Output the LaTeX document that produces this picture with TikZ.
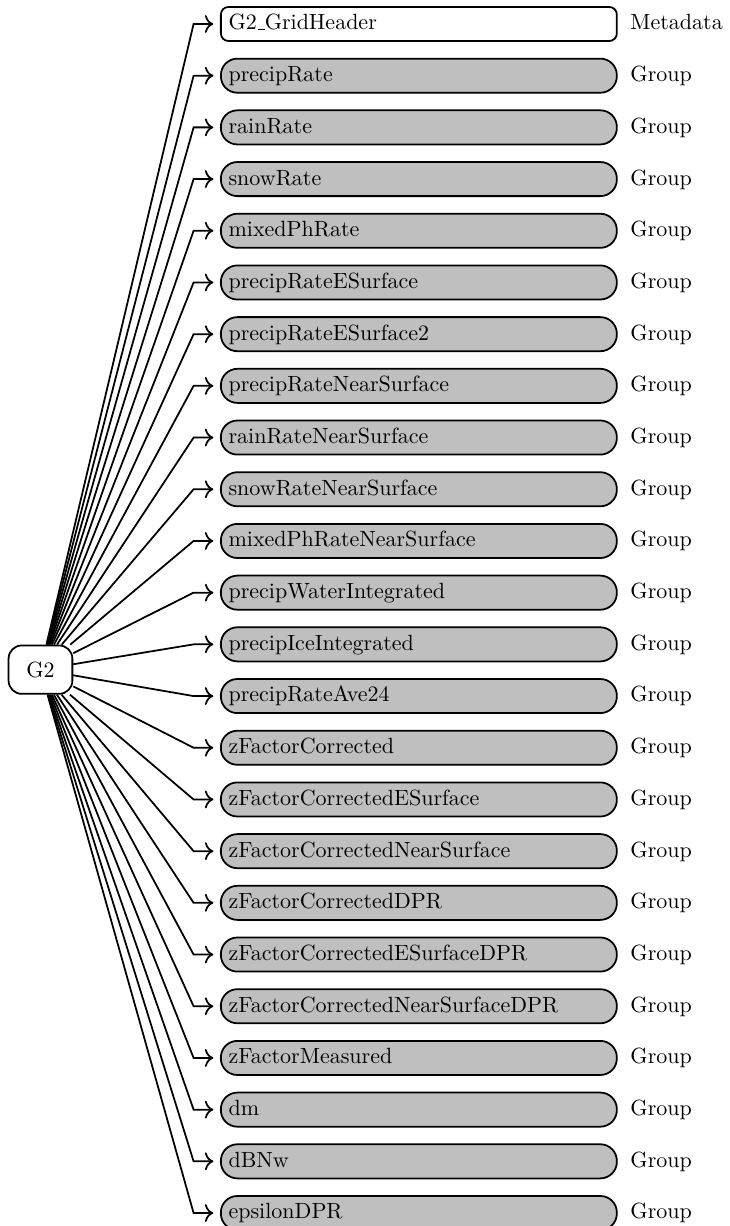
\documentclass[tikz,border=0pt]{standalone}
\usepackage{amsmath}
\usepackage{xcolor}
\usepackage{tikz}
\usetikzlibrary{shapes,arrows.meta,positioning,calc}

\newcommand{\usc}{\leavevmode\kern.06em\vbox{\hrule width.3em}}

\begin{document}
\begin{tikzpicture}[
        node distance=7.2pt,
        rootblock/.style={rectangle, draw, fill=white, rounded corners=6pt, minimum width=29pt, minimum height=22pt, line width=0.8pt},
        metablock/.style={rectangle, draw, fill=white, text width=173pt, align=left, rounded corners=3.5pt, minimum height=15.5pt, text height=1.5ex, text depth=.25ex, inner sep=3.5pt, line width=0.8pt},
        groupblock/.style={metablock, fill=lightgray, rounded corners=7.5pt},
        annotation/.style={inner sep=0pt, text height=1.5ex, text depth=.25ex},
        line/.style={draw, -{To[scale=1.15]}, line width=0.8pt, shorten >=3pt}
    ]
    \useasboundingbox (0,0) rectangle (331.4pt,-557.3pt);

    % Root
    \node [rootblock] (g2) at (18.4pt,-304.4pt) {G2};

    % Children
    \node [metablock, anchor=west] (hdr) at (100pt,-10.9pt) {G2\usc GridHeader};
    \node [groupblock, below=of hdr] (prate) {precipRate};
    \node [groupblock, below=of prate] (rrate) {rainRate};
    \node [groupblock, below=of rrate] (srate) {snowRate};
    \node [groupblock, below=of srate] (mrate) {mixedPhRate};
    \node [groupblock, below=of mrate] (pres) {precipRateESurface};
    \node [groupblock, below=of pres] (pres2) {precipRateESurface2};
    \node [groupblock, below=of pres2] (prns) {precipRateNearSurface};
    \node [groupblock, below=of prns] (rrns) {rainRateNearSurface};
    \node [groupblock, below=of rrns] (srns) {snowRateNearSurface};
    \node [groupblock, below=of srns] (mrns) {mixedPhRateNearSurface};
    \node [groupblock, below=of mrns] (pwi) {precipWaterIntegrated};
    \node [groupblock, below=of pwi] (pii) {precipIceIntegrated};
    \node [groupblock, below=of pii] (pave) {precipRateAve24};
    \node [groupblock, below=of pave] (zfc) {zFactorCorrected};
    \node [groupblock, below=of zfc] (zfces) {zFactorCorrectedESurface};
    \node [groupblock, below=of zfces] (zfcns) {zFactorCorrectedNearSurface};
    \node [groupblock, below=of zfcns] (zfcdpr) {zFactorCorrectedDPR};
    \node [groupblock, below=of zfcdpr] (zfcesdpr) {zFactorCorrectedESurfaceDPR};
    \node [groupblock, below=of zfcesdpr] (zfcnsdpr) {zFactorCorrectedNearSurfaceDPR};
    \node [groupblock, below=of zfcnsdpr] (zfm) {zFactorMeasured};
    \node [groupblock, below=of zfm] (dm) {dm};
    \node [groupblock, below=of dm] (dbnw) {dBNw};
    \node [groupblock, below=of dbnw] (eps) {epsilonDPR};

    % Kind labels
    \node [annotation, right=5.6pt of hdr] (lhdr) {Metadata};
    \node [annotation, right=5.6pt of prate] (lprate) {Group};
    \node [annotation, right=5.6pt of rrate] (lrrate) {Group};
    \node [annotation, right=5.6pt of srate] (lsrate) {Group};
    \node [annotation, right=5.6pt of mrate] (lmrate) {Group};
    \node [annotation, right=5.6pt of pres] (lpres) {Group};
    \node [annotation, right=5.6pt of pres2] (lpres2) {Group};
    \node [annotation, right=5.6pt of prns] (lprns) {Group};
    \node [annotation, right=5.6pt of rrns] (lrrns) {Group};
    \node [annotation, right=5.6pt of srns] (lsrns) {Group};
    \node [annotation, right=5.6pt of mrns] (lmrns) {Group};
    \node [annotation, right=5.6pt of pwi] (lpwi) {Group};
    \node [annotation, right=5.6pt of pii] (lpii) {Group};
    \node [annotation, right=5.6pt of pave] (lpave) {Group};
    \node [annotation, right=5.6pt of zfc] (lzfc) {Group};
    \node [annotation, right=5.6pt of zfces] (lzfces) {Group};
    \node [annotation, right=5.6pt of zfcns] (lzfcns) {Group};
    \node [annotation, right=5.6pt of zfcdpr] (lzfcdpr) {Group};
    \node [annotation, right=5.6pt of zfcesdpr] (lzfcesdpr) {Group};
    \node [annotation, right=5.6pt of zfcnsdpr] (lzfcnsdpr) {Group};
    \node [annotation, right=5.6pt of zfm] (lzfm) {Group};
    \node [annotation, right=5.6pt of dm] (ldm) {Group};
    \node [annotation, right=5.6pt of dbnw] (ldbnw) {Group};
    \node [annotation, right=5.6pt of eps] (leps) {Group};

    % Connections - root to children
    \path [line] (g2) -- ($(hdr.west)+(-12pt,0)$) -- (hdr.west);
    \path [line] (g2) -- ($(prate.west)+(-12pt,0)$) -- (prate.west);
    \path [line] (g2) -- ($(rrate.west)+(-12pt,0)$) -- (rrate.west);
    \path [line] (g2) -- ($(srate.west)+(-12pt,0)$) -- (srate.west);
    \path [line] (g2) -- ($(mrate.west)+(-12pt,0)$) -- (mrate.west);
    \path [line] (g2) -- ($(pres.west)+(-12pt,0)$) -- (pres.west);
    \path [line] (g2) -- ($(pres2.west)+(-12pt,0)$) -- (pres2.west);
    \path [line] (g2) -- ($(prns.west)+(-12pt,0)$) -- (prns.west);
    \path [line] (g2) -- ($(rrns.west)+(-12pt,0)$) -- (rrns.west);
    \path [line] (g2) -- ($(srns.west)+(-12pt,0)$) -- (srns.west);
    \path [line] (g2) -- ($(mrns.west)+(-12pt,0)$) -- (mrns.west);
    \path [line] (g2) -- ($(pwi.west)+(-12pt,0)$) -- (pwi.west);
    \path [line] (g2) -- ($(pii.west)+(-12pt,0)$) -- (pii.west);
    \path [line] (g2) -- ($(pave.west)+(-12pt,0)$) -- (pave.west);
    \path [line] (g2) -- ($(zfc.west)+(-12pt,0)$) -- (zfc.west);
    \path [line] (g2) -- ($(zfces.west)+(-12pt,0)$) -- (zfces.west);
    \path [line] (g2) -- ($(zfcns.west)+(-12pt,0)$) -- (zfcns.west);
    \path [line] (g2) -- ($(zfcdpr.west)+(-12pt,0)$) -- (zfcdpr.west);
    \path [line] (g2) -- ($(zfcesdpr.west)+(-12pt,0)$) -- (zfcesdpr.west);
    \path [line] (g2) -- ($(zfcnsdpr.west)+(-12pt,0)$) -- (zfcnsdpr.west);
    \path [line] (g2) -- ($(zfm.west)+(-12pt,0)$) -- (zfm.west);
    \path [line] (g2) -- ($(dm.west)+(-12pt,0)$) -- (dm.west);
    \path [line] (g2) -- ($(dbnw.west)+(-12pt,0)$) -- (dbnw.west);
    \path [line] (g2) -- ($(eps.west)+(-12pt,0)$) -- (eps.west);

\end{tikzpicture}
\end{document}
